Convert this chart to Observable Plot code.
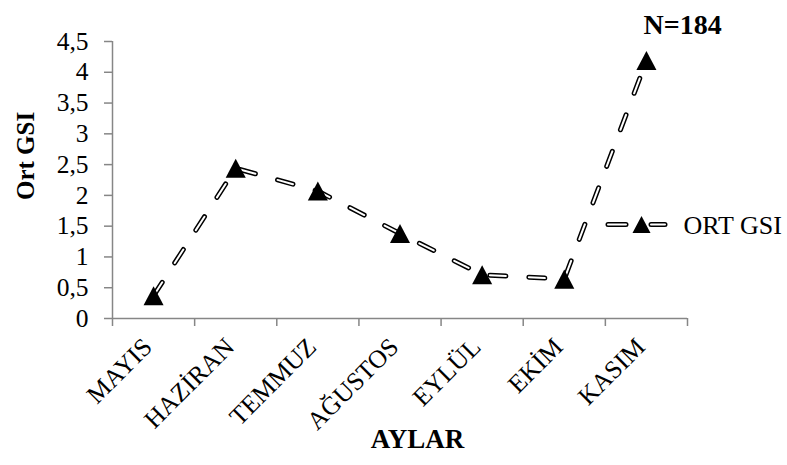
<!DOCTYPE html>
<html>
<head>
<meta charset="utf-8">
<script src="https://cdn.jsdelivr.net/npm/d3@7"></script>
<script src="https://cdn.jsdelivr.net/npm/@observablehq/plot@0.6"></script>
<style>
  body { margin: 0; background: white; }
  #wrap { position: relative; width: 787px; height: 465px; background: white; }
  #wrap svg { display: block; }
  #wrap svg, #wrap svg text { font-family: "Liberation Serif", "Times New Roman", serif !important; }
  #legend { position: absolute; left: 601px; top: 212px; }
</style>
</head>
<body>
<div id="wrap"></div>
<script>
const months = ["MAYIS", "HAZİRAN", "TEMMUZ", "AĞUSTOS", "EYLÜL", "EKİM", "KASIM"];
const ortGSI = [0.37, 2.44, 2.07, 1.38, 0.71, 0.64, 4.19];
const yTicks = [0, 0.5, 1, 1.5, 2, 2.5, 3, 3.5, 4, 4.5];
const yTickLabels = ["0", "0,5", "1", "1,5", "2", "2,5", "3", "3,5", "4", "4,5"];
const seriesName = "ORT GSI";
const yTitle = "Ort GSI";
const xTitle = "AYLAR";
const title = "N=184";

const axisGrey = "#868686";
const font = "Liberation Serif";

// triangle marker, centred on its bounding box (like Excel)
const tri = {
  draw(ctx, size) {
    const w = Math.sqrt(size / 0.475), h = 0.95 * w;
    ctx.moveTo(0, -h / 2);
    ctx.lineTo(w / 2, h / 2);
    ctx.lineTo(-w / 2, h / 2);
    ctx.closePath();
  }
};

const idx = (d, i) => i;
const boundaries = d3.range(-0.5, months.length, 1);

const chart = Plot.plot({
  width: 787,
  height: 465,
  marginLeft: 112,
  marginRight: 100,
  marginTop: 41,
  marginBottom: 147,
  x: {type: "linear", domain: [-0.5, months.length - 0.5], axis: null},
  y: {domain: [0, 4.5], axis: null},
  style: {fontFamily: font, fontSize: "25px", color: "black", background: "white"},
  marks: [
    Plot.ruleX([-0.5], {y1: 0, y2: 4.5, stroke: axisGrey, strokeWidth: 1.5}),
    Plot.ruleY([0], {x1: -0.5, x2: months.length - 0.5, stroke: axisGrey, strokeWidth: 1.5}),
    Plot.axisY({ticks: yTicks, tickSize: 8, tickPadding: 16, tickFormat: (d, i) => yTickLabels[i],
      stroke: axisGrey, strokeWidth: 1.5, fill: "black", fontSize: 25.5, fontFamily: font}),
    Plot.axisX({ticks: boundaries, tickSize: 8, tickFormat: () => "", stroke: axisGrey, strokeWidth: 1.5}),
    Plot.text(months, {x: idx, text: d => d, frameAnchor: "bottom", rotate: -45, textAnchor: "end",
      dx: 0, dy: 30, fontSize: 25.5, fontFamily: font, fill: "black"}),
    Plot.line(ortGSI, {x: idx, y: d => d, stroke: "black", strokeWidth: 5,
      strokeDasharray: "16,23", strokeLinecap: "round"}),
    Plot.line(ortGSI, {x: idx, y: d => d, stroke: "white", strokeWidth: 2,
      strokeDasharray: "16,23", strokeLinecap: "round"}),
    Plot.dot(ortGSI, {x: idx, y: d => d, symbol: tri, r: 7.8, fill: "black", stroke: "none"}),
    Plot.text([yTitle], {frameAnchor: "left", rotate: -90, dx: -87, dy: 20,
      fontWeight: "bold", fontSize: 25, fontFamily: font, fill: "black"}),
    Plot.text([xTitle], {frameAnchor: "bottom", dx: 17.5, dy: 129,
      fontWeight: "bold", fontSize: 27, fontFamily: font, fill: "black"}),
    Plot.text([title], {frameAnchor: "top-right", textAnchor: "start", dx: -44, dy: -27,
      fontWeight: "bold", fontSize: 28, fontFamily: font, fill: "black"}),
    Plot.text([seriesName], {frameAnchor: "right", textAnchor: "start", dx: -4, dy: 45.5,
      fontSize: 26, fontFamily: font, fill: "black"})
  ]
});
document.getElementById("wrap").appendChild(chart);

// legend swatch
const legend = Plot.plot({
  width: 72,
  height: 24,
  margin: 0,
  x: {domain: [0, 1], range: [6.5, 63.5], axis: null},
  y: {domain: [0, 1], axis: null},
  style: {background: "transparent"},
  marks: [
    Plot.line([0, 1], {x: d => d, y: () => 0.5, stroke: "black", strokeWidth: 5,
      strokeDasharray: "18,25", strokeLinecap: "round"}),
    Plot.line([0, 1], {x: d => d, y: () => 0.5, stroke: "white", strokeWidth: 2,
      strokeDasharray: "18,25", strokeLinecap: "round"}),
    Plot.dot([0.588], {x: d => d, y: () => 0.5, symbol: tri, r: 7.0, fill: "black", stroke: "none"})
  ]
});
legend.id = "legend";
document.getElementById("wrap").appendChild(legend);
</script>
</body>
</html>
